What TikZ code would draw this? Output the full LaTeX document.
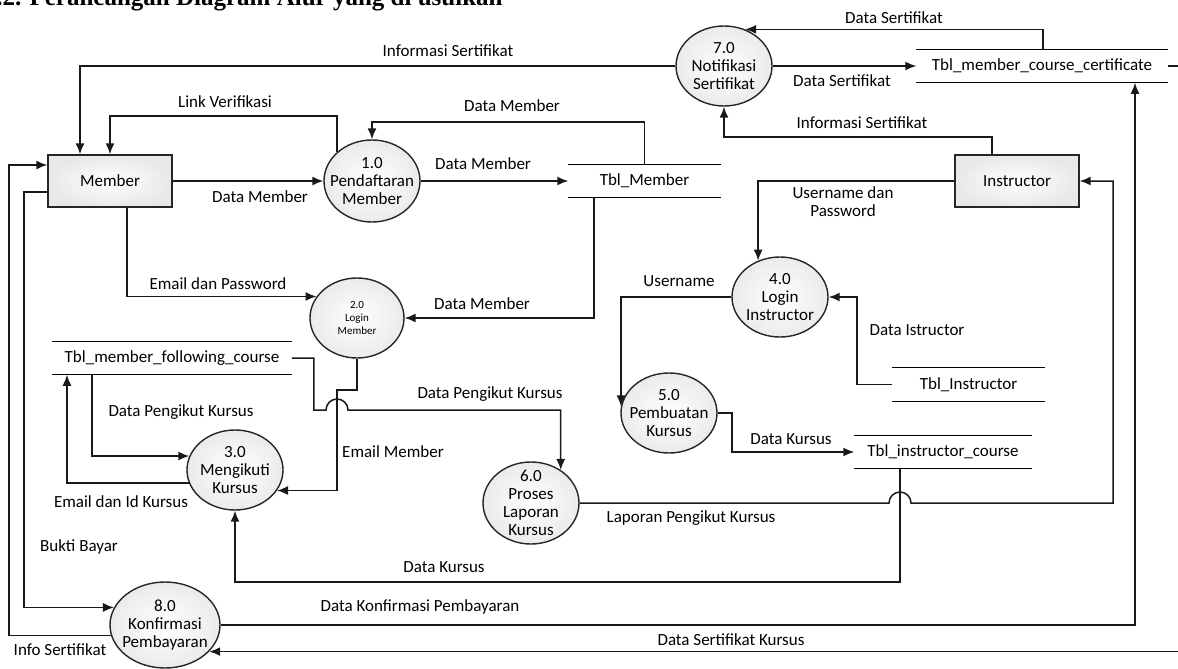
\documentclass[tikz,border=0pt]{standalone}
\usepackage{fontspec}
\setmainfont{Carlito}
\newfontfamily\titlefont{Liberation Serif}
\usepackage{tikz}
\usetikzlibrary{arrows.meta,shapes.geometric}

\tikzset{
  proc/.style={ellipse,draw=black!85,line width=0.7pt,inner sep=0pt,
               minimum width=48pt,minimum height=40pt,
               inner color=white,outer color=gray!16},
  every label/.style={align=center,inner sep=0pt,
                      font=\fontsize{8.5}{9}\selectfont}
}

\begin{document}
\begin{tikzpicture}[x=0.5pt,y=-0.5pt,line width=0.75pt]
            \useasboundingbox (0,0) rectangle (1178,669);
            \node[anchor=base east,font=\titlefont\bfseries\fontsize{12.5}{15}\selectfont] (title) at (510,5.5)
                {3.2. Perancangan Diagram Alur yang di usulkan};

            % entitas
            \begin{scope}[every node/.style={rectangle,draw=black!85,line width=0.7pt,
                          minimum width=62pt,minimum height=26pt,
                          inner color=white,outer color=gray!18,
                          font=\fontsize{8.5}{9}\selectfont}]
                \node (member) at (110,181) {Member};
                \node (instructor) at (1017,181) {Instructor};
            \end{scope}

            % proses
            \node[proc,minimum height=41pt,label={center:1.0\\Pendaftaran\\Member}] (p1) at (372,181) {};
            \node[proc,minimum width=47pt,label={[font=\fontsize{5.5}{6.5}\selectfont]center:2.0\\Login\\Member}] (p2) at (357,318) {};
            \node[proc,label={center:3.0\\Mengikuti\\Kursus}] (p3) at (235,470) {};
            \node[proc,label={center:4.0\\Login\\Instructor}] (p4) at (780,297) {};
            \node[proc,label={center:5.0\\Pembuatan\\Kursus}] (p5) at (669,413) {};
            \node[proc,minimum height=41pt,label={center:6.0\\Proses\\Laporan\\Kursus}] (p6) at (531,503) {};
            \node[proc,label={center:7.0\\Notifikasi\\Sertifikat}] (p7) at (724,66) {};
            \node[proc,minimum width=55pt,minimum height=43pt,label={center:8.0\\Konfirmasi\\Pembayaran}] (p8) at (165,625) {};

            % data store
            \begin{scope}[every node/.style={minimum height=16pt,inner sep=0pt,
                          font=\fontsize{8.5}{9}\selectfont}]
                \node[minimum width=125pt] (tmcc) at (1042,66) {Tbl\_member\_course\_certificate};
                \node[minimum width=75.5pt] (tm) at (644.5,181) {Tbl\_Member};
                \node[minimum width=119pt] (tmfc) at (172,358) {Tbl\_member\_following\_course};
                \node[minimum width=75.5pt,minimum height=16.5pt] (ti) at (968.5,384.5) {Tbl\_Instructor};
                \node[minimum width=88pt] (tic) at (943,452) {Tbl\_instructor\_course};
            \end{scope}
            \foreach \s in {tmcc,tm,tmfc,ti,tic}
                \draw[line width=0.7pt] (\s.north west) -- (\s.north east) (\s.south west) -- (\s.south east);

            % aliran data
            \begin{scope}[>={Latex[length=5.5pt,width=4.5pt]},draw=black!90]
                \draw[->] (member.east) -- (p1.west);
                \draw[->] (p1.140) -- (p1.140 |- 0,116) -| (member.north);
                \draw[->] (p7.west) -| (member.north -| 80,0);
                \draw[->] (tm.north) -- (tm.north |- 0,122) -| (p1.north);
                \draw[->] (p1.east) -- (tm.west);
                \draw[->] (member.south -| 127,0) |- (p2.152);
                \draw[->] (tm.south -| 594,0) |- (p2.east);
                \draw[->] (p2.south) -- (p2.south |- 0,390) -- (337,390) |- (p3.334);
                \draw[->] (tmfc.east) -- ++(22,0) |- (326,410)
                    arc[start angle=180,end angle=0,radius=5.5pt] -| (p6.48);
                \draw[->] (tmfc.south -| 92,0) |- (p3.163);
                \draw[->] (p3.196) -| (tmfc.south -| 67,0);
                \draw[->] (tic.south -| 900,0) -- (900,582) -| (p3.south);
                \draw[->] (p6.east) -- (889,503)
                    arc[start angle=180,end angle=0,radius=5.5pt] -- (1113,503) |- (instructor.east);
                \draw[->] (p8.east) -| (tmcc.south -| 1135,0);
                \draw[->] (tmcc.east) -- (1200,66) |- (p8.329);
                \draw[->] (member.west |- 0,192) -- (24,192) |- (p8.161);
                \draw[->] (p8.191) -| (9,165) -- (member.west |- 0,165);
                \draw[->] (instructor.north -| 992,0) -- (992,137) -| (p7.south);
                \draw[->] (tmcc.north -| 1043,0) |- (p7.60);
                \draw[->] (p7.east) -- (tmcc.west);
                \draw[->] (instructor.west) -| (p4.121);
                \draw[->] (ti.west) -- (857,384.5) |- (p4.east);
                \draw[->] (p4.west) -| (p5.172);
                \draw[->] (p5.east) -- (732,413) |- (tic.west);
            \end{scope}

            % label aliran
            \begin{scope}[every node/.style={font=\fontsize{8.5}{9}\selectfont,inner sep=1pt}]
                \node (l1) at (260,197) {Data Member};
                \node (l2) at (225,102) {Link Verifikasi};
                \node (l3) at (448,51) {Informasi Sertifikat};
                \node (l4) at (512,106) {Data Member};
                \node (l5) at (483,164) {Data Member};
                \node (l6) at (218,284) {Email dan Password};
                \node (l7) at (482,304) {Data Member};
                \node (l8) at (393,452) {Email Member};
                \node (l9) at (490,394) {Data Pengikut Kursus};
                \node (l10) at (181,412) {Data Pengikut Kursus};
                \node (l11) at (121,502) {Email dan Id Kursus};
                \node (l12) at (444,567) {Data Kursus};
                \node (l13) at (691,518) {Laporan Pengikut Kursus};
                \node (l14) at (420,607) {Data Konfirmasi Pembayaran};
                \node (l15) at (731,640) {Data Sertifikat Kursus};
                \node (l16) at (79,547) {Bukti Bayar};
                \node (l17) at (60,650) {Info Sertifikat};
                \node (l18) at (862,123) {Informasi Sertifikat};
                \node (l19) at (894,18) {Data Sertifikat};
                \node (l20) at (842,81) {Data Sertifikat};
                \node[align=center] (l21) at (843,202) {Username dan\\Password};
                \node (l22) at (917,330) {Data Istructor};
                \node (l23) at (679,281) {Username};
                \node (l24) at (791,439) {Data Kursus};
            \end{scope}
\end{tikzpicture}
\end{document}
